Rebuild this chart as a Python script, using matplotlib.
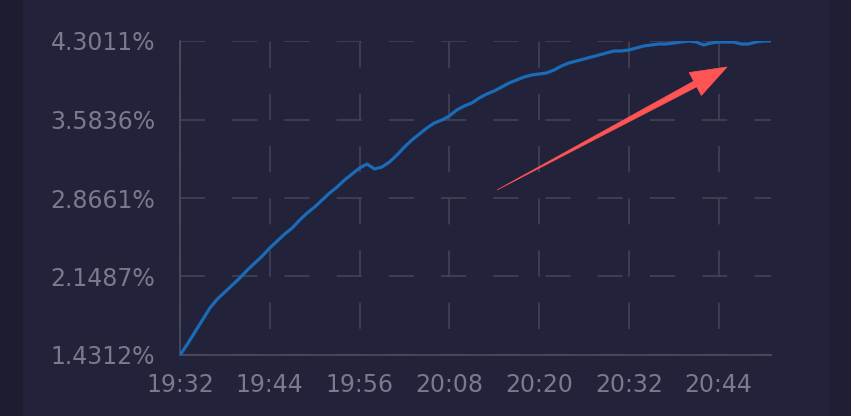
import numpy as np
import matplotlib
matplotlib.use("Agg")
import matplotlib.pyplot as plt
from matplotlib.patches import Polygon, Rectangle

# one value per minute, 19:32 -> 20:51
values = [
    1.4312, 1.5317, 1.6414, 1.7511, 1.8608, 1.9430, 2.0070, 2.0710, 2.1350, 2.2081,
    2.2721, 2.3361, 2.4092, 2.4732, 2.5371, 2.5920, 2.6651, 2.7291, 2.7839, 2.8479,
    2.9119, 2.9667, 3.0307, 3.0855, 3.1404, 3.1769, 3.1312, 3.1495, 3.1952, 3.2592,
    3.3323, 3.3963, 3.4511, 3.5060, 3.5517, 3.5791, 3.6157, 3.6705, 3.7071, 3.7345,
    3.7802, 3.8167, 3.8442, 3.8807, 3.9173, 3.9447, 3.9721, 3.9904, 3.9995, 4.0087,
    4.0361, 4.0727, 4.1001, 4.1184, 4.1366, 4.1549, 4.1732, 4.1915, 4.2098, 4.2098,
    4.2189, 4.2372, 4.2555, 4.2646, 4.2737, 4.2737, 4.2829, 4.2920, 4.3011, 4.2920,
    4.2646, 4.2829, 4.2920, 4.2920, 4.2920, 4.2737, 4.2737, 4.2920, 4.3011, 4.3011,
]
x_labels = ["19:32", "19:44", "19:56", "20:08", "20:20", "20:32", "20:44"]
x_label_step = 12
y_ticks = [1.4312, 2.1487, 2.8661, 3.5836, 4.3011]
y_labels = ["1.4312%", "2.1487%", "2.8661%", "3.5836%", "4.3011%"]

BG = "#22223a"
GRID = "#46465a"
AXIS = "#4e4e60"
TEXT = "#7a7a8c"
LINE = "#1a6bb8"
ARROW = "#ff5454"

W, H = 851, 416
plt.rcParams["lines.scale_dashes"] = False
fig = plt.figure(figsize=(W / 100, H / 100), dpi=100, facecolor=BG)

# darker strips at the sides
fig.patches.append(Rectangle((0, 0), 23 / W, 1, transform=fig.transFigure,
                             facecolor="#1d1c31", edgecolor="none", zorder=0))
fig.patches.append(Rectangle((829 / W, 0), 1 - 829 / W, 1, transform=fig.transFigure,
                             facecolor="#1f1e34", edgecolor="none", zorder=0))

ax = fig.add_axes([180 / W, 1 - 355 / H, (771 - 180) / W, (355 - 41) / H])
ax.set_facecolor("none")

x = np.arange(len(values))
ax.plot(x, values, color=LINE, lw=2.3, solid_joinstyle="round", zorder=3)

ax.set_xlim(0, len(values) - 1)
ax.set_ylim(y_ticks[0], y_ticks[-1])
ax.set_xticks(np.arange(len(x_labels)) * x_label_step)
ax.set_xticklabels(x_labels)
ax.set_yticks(y_ticks)
ax.set_yticklabels(y_labels)

ax.tick_params(axis="both", length=0, colors=TEXT, labelsize=17)
ax.tick_params(axis="y", pad=18)
ax.tick_params(axis="x", pad=13)

ax.yaxis.grid(True, color=GRID, lw=1.1, linestyle=(0, (18.0, 19.6)))
ax.xaxis.grid(True, color=GRID, lw=1.1, linestyle=(18.8, (18.8, 18.8)))
ax.set_axisbelow(True)

for s in ["top", "right"]:
    ax.spines[s].set_visible(False)
for s in ["left", "bottom"]:
    ax.spines[s].set_color(AXIS)
    ax.spines[s].set_linewidth(1.2)

# red arrow annotation (figure pixel coords)
tail = np.array([497.0, 190.0])
tip = np.array([727.0, 67.0])
d = (tip - tail) / np.linalg.norm(tip - tail)
p = np.array([-d[1], d[0]])
base = tip - d * 36
pts = [tail, base + p * 3.2, base + p * 13, tip, base - p * 13, base - p * 3.2]
pts = [(q[0] / W, 1 - q[1] / H) for q in pts]
fig.patches.append(Polygon(pts, closed=True, transform=fig.transFigure,
                           facecolor=ARROW, edgecolor=ARROW, lw=0.5, zorder=5))

fig.savefig("out.png", dpi=100, facecolor=BG)
